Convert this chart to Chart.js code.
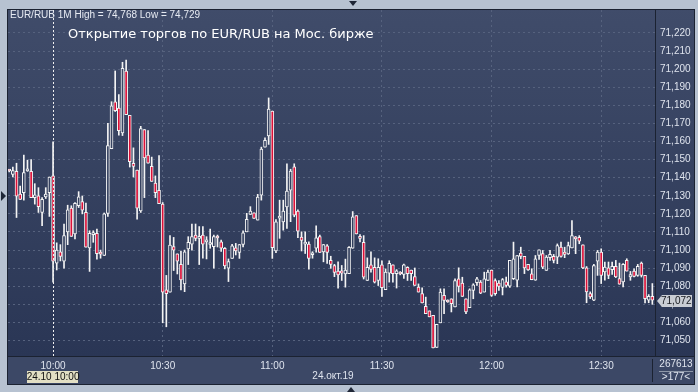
<!DOCTYPE html>
<html>
<head>
<meta charset="utf-8">
<script src="https://cdn.jsdelivr.net/npm/chart.js@4.4.1/dist/chart.umd.min.js"></script>
<style>
  html, body { margin: 0; padding: 0; background: #b7c2d1; }
  canvas { display: block; }
</style>
</head>
<body>
<canvas id="candles" width="698" height="392"></canvas>
<script>
// EUR/RUB 1M, 24.10.2019, one candle per minute starting 9:48
const firstMinute = -12; // minutes relative to 10:00

const opens = [
  71.1440, 71.1418, 71.1435, 71.1309, 71.1318, 71.1438, 71.1435, 71.1290, 71.1300, 71.1208,
  71.1294, 71.1318, 71.1410, 71.0928, 71.0990, 71.0939, 71.1100, 71.1232, 71.1089, 71.1246,
  71.1268, 71.1208, 71.1012, 71.1085, 71.1092, 71.0985, 71.0970, 71.1202, 71.1560, 71.1820,
  71.1785, 71.1648, 71.1990, 71.1745, 71.1480, 71.1442, 71.1217, 71.1666, 71.1525, 71.1463,
  71.1370, 71.1330, 71.1254, 71.0780, 71.0768, 71.1020, 71.0979, 71.0921, 71.0813, 71.1006,
  71.1033, 71.1083, 71.1065, 71.1083, 71.1045, 71.1031, 71.1019, 71.1071, 71.1046, 71.1010,
  71.0900, 71.0954, 71.1013, 71.0987, 71.1031, 71.1101, 71.1197, 71.1206, 71.1166, 71.1304,
  71.1569, 71.1631, 71.1768, 71.0995, 71.1177, 71.1156, 71.1238, 71.1331, 71.1460, 71.1216,
  71.1072, 71.1033, 71.1033, 71.0974, 71.1010, 71.1074, 71.0990, 71.1024, 71.0943, 71.0914,
  71.0884, 71.0885, 71.0868, 71.0869, 71.1010, 71.1190, 71.1076, 71.1043, 71.0832, 71.0918,
  71.0905, 71.0832, 71.0918, 71.0781, 71.0872, 71.0918, 71.0869, 71.0874, 71.0865, 71.0905,
  71.0890, 71.0854, 71.0795, 71.0759, 71.0689, 71.0664, 71.0640, 71.0462, 71.0598, 71.0750,
  71.0722, 71.0731, 71.0686, 71.0841, 71.0817, 71.0731, 71.0682, 71.0777, 71.0820, 71.0823,
  71.0768, 71.0832, 71.0890, 71.0832, 71.0817, 71.0793, 71.0824, 71.0800, 71.0842, 71.0833,
  71.0983, 71.0965, 71.0921, 71.0869, 71.0833, 71.0970, 71.0980, 71.0888, 71.0958, 71.0965,
  71.0961, 71.1016, 71.0989, 71.0979, 71.1012, 71.1071, 71.1071, 71.1029, 71.0902, 71.0760,
  71.0723, 71.0939, 71.0989, 71.0879, 71.0902, 71.0892, 71.0910, 71.0842, 71.0824, 71.0943,
  71.0851, 71.0884, 71.0860, 71.0928, 71.0860, 71.0723, 71.0745
];
const highs = [
  71.1445, 71.1459, 71.1480, 71.1354, 71.1525, 71.1497, 71.1500, 71.1367, 71.1345, 71.1290,
  71.1345, 71.1404, 71.1598, 71.1040, 71.1030, 71.1144, 71.1248, 71.1245, 71.1262, 71.1323,
  71.1299, 71.1260, 71.1107, 71.1107, 71.1116, 71.1000, 71.1205, 71.1700, 71.1820, 71.1990,
  71.1860, 71.2038, 71.2050, 71.1745, 71.1565, 71.1442, 71.1684, 71.1666, 71.1660, 71.1514,
  71.1410, 71.1523, 71.1263, 71.0860, 71.1080, 71.1070, 71.0979, 71.0995, 71.1000, 71.1074,
  71.1144, 71.1144, 71.1130, 71.1130, 71.1074, 71.1116, 71.1083, 71.1083, 71.1055, 71.1014,
  71.0951, 71.1032, 71.1037, 71.1031, 71.1106, 71.1203, 71.1240, 71.1206, 71.1308, 71.1569,
  71.1620, 71.1841, 71.1768, 71.1169, 71.1276, 71.1276, 71.1477, 71.1447, 71.1477, 71.1222,
  71.1101, 71.1101, 71.1046, 71.0991, 71.1134, 71.1083, 71.1031, 71.1031, 71.0966, 71.0921,
  71.0935, 71.0915, 71.0950, 71.1019, 71.1213, 71.1190, 71.1085, 71.1080, 71.0957, 71.0990,
  71.0957, 71.0952, 71.0941, 71.0896, 71.0941, 71.0918, 71.0892, 71.0881, 71.0923, 71.0908,
  71.0890, 71.0901, 71.0813, 71.0791, 71.0740, 71.0664, 71.0640, 71.0590, 71.0786, 71.0786,
  71.0725, 71.0731, 71.0841, 71.0902, 71.0850, 71.0731, 71.0786, 71.0814, 71.0850, 71.0832,
  71.0878, 71.0890, 71.0890, 71.0841, 71.0832, 71.0843, 71.0851, 71.0943, 71.1044, 71.0970,
  71.1016, 71.0965, 71.0921, 71.0897, 71.0970, 71.1001, 71.0998, 71.0970, 71.0998, 71.0976,
  71.1034, 71.1044, 71.1016, 71.1044, 71.1163, 71.1075, 71.1080, 71.1029, 71.0909, 71.0769,
  71.0921, 71.0998, 71.1007, 71.0934, 71.0934, 71.0934, 71.0943, 71.0928, 71.0925, 71.0952,
  71.0882, 71.0897, 71.0921, 71.0934, 71.0860, 71.0754, 71.0815
];
const lows = [
  71.1432, 71.1404, 71.1180, 71.1280, 71.1276, 71.1435, 71.1290, 71.1254, 71.1208, 71.1135,
  71.1285, 71.1186, 71.0823, 71.0890, 71.0940, 71.0900, 71.1030, 71.1076, 71.1061, 71.1235,
  71.1200, 71.1016, 71.0882, 71.1043, 71.0950, 71.0955, 71.0970, 71.1186, 71.1560, 71.1766,
  71.1635, 71.1633, 71.1748, 71.1459, 71.1404, 71.1171, 71.1208, 71.1290, 71.1480, 71.1380,
  71.1290, 71.1257, 71.0598, 71.0576, 71.0768, 71.0887, 71.0868, 71.0780, 71.0770, 71.0920,
  71.1000, 71.1051, 71.0920, 71.0955, 71.0951, 71.1010, 71.0900, 71.1017, 71.0992, 71.0896,
  71.0826, 71.0954, 71.0973, 71.0954, 71.1018, 71.1101, 71.1197, 71.1175, 71.1166, 71.1276,
  71.1569, 71.1584, 71.0954, 71.0985, 71.1065, 71.1110, 71.1120, 71.1157, 71.1184, 71.1068,
  71.0995, 71.0981, 71.0895, 71.0955, 71.0988, 71.0987, 71.0935, 71.0926, 71.0899, 71.0853,
  71.0789, 71.0832, 71.0795, 71.0869, 71.1010, 71.1089, 71.1045, 71.0840, 71.0832, 71.0878,
  71.0818, 71.0804, 71.0744, 71.0781, 71.0823, 71.0823, 71.0790, 71.0863, 71.0844, 71.0832,
  71.0832, 71.0805, 71.0768, 71.0708, 71.0649, 71.0631, 71.0459, 71.0462, 71.0598, 71.0649,
  71.0711, 71.0658, 71.0686, 71.0768, 71.0744, 71.0649, 71.0682, 71.0731, 71.0805, 71.0759,
  71.0768, 71.0832, 71.0744, 71.0750, 71.0777, 71.0752, 71.0795, 71.0793, 71.0837, 71.0796,
  71.0952, 71.0870, 71.0888, 71.0836, 71.0833, 71.0948, 71.0897, 71.0888, 71.0943, 71.0929,
  71.0925, 71.0961, 71.0958, 71.0976, 71.1012, 71.0980, 71.1035, 71.0897, 71.0709, 71.0732,
  71.0720, 71.0860, 71.0815, 71.0834, 71.0842, 71.0866, 71.0848, 71.0811, 71.0797, 71.0884,
  71.0833, 71.0851, 71.0855, 71.0851, 71.0708, 71.0709, 71.0700
];
const closes = [
  71.1437, 71.1440, 71.1298, 71.1280, 71.1428, 71.1442, 71.1290, 71.1305, 71.1240, 71.1281,
  71.1310, 71.1404, 71.0939, 71.1000, 71.0965, 71.1080, 71.1223, 71.1076, 71.1259, 71.1294,
  71.1221, 71.1016, 71.1092, 71.1095, 71.0980, 71.0978, 71.1200, 71.1578, 71.1798, 71.1770,
  71.1660, 71.2005, 71.1748, 71.1488, 71.1462, 71.1232, 71.1672, 71.1510, 71.1480, 71.1380,
  71.1318, 71.1257, 71.0768, 71.0759, 71.1028, 71.1000, 71.0939, 71.0835, 71.0991, 71.1043,
  71.1074, 71.1065, 71.1075, 71.1033, 71.1052, 71.1036, 71.1074, 71.1067, 71.1010, 71.0912,
  71.0936, 71.1024, 71.0995, 71.1031, 71.1096, 71.1170, 71.1216, 71.1175, 71.1293, 71.1558,
  71.1607, 71.1779, 71.1013, 71.1156, 71.1186, 71.1215, 71.1326, 71.1436, 71.1193, 71.1105,
  71.1054, 71.1042, 71.0954, 71.0985, 71.1068, 71.0987, 71.1031, 71.0987, 71.0921, 71.0877,
  71.0862, 71.0872, 71.0890, 71.1015, 71.1184, 71.1089, 71.1065, 71.0850, 71.0905, 71.0893,
  71.0823, 71.0905, 71.0792, 71.0878, 71.0927, 71.0869, 71.0885, 71.0868, 71.0918, 71.0869,
  71.0869, 71.0805, 71.0768, 71.0708, 71.0649, 71.0631, 71.0459, 71.0590, 71.0768, 71.0722,
  71.0713, 71.0704, 71.0832, 71.0799, 71.0744, 71.0658, 71.0780, 71.0808, 71.0841, 71.0762,
  71.0841, 71.0878, 71.0749, 71.0759, 71.0799, 71.0837, 71.0805, 71.0943, 71.0952, 71.0970,
  71.0965, 71.0902, 71.0891, 71.0836, 71.0952, 71.1001, 71.0906, 71.0961, 71.0976, 71.0943,
  71.1025, 71.0965, 71.0976, 71.1025, 71.1080, 71.1062, 71.1049, 71.0902, 71.0769, 71.0741,
  71.0915, 71.0989, 71.0860, 71.0906, 71.0860, 71.0910, 71.0851, 71.0811, 71.0921, 71.0884,
  71.0864, 71.0855, 71.0910, 71.0860, 71.0732, 71.0745, 71.0723
];

const timeTicks = [0, 30, 60, 90, 120, 150];
const timeLabels = ['10:00', '10:30', '11:00', '11:30', '12:00', '12:30'];
const priceTicks = [71.050, 71.060, 71.070, 71.080, 71.090, 71.100, 71.110, 71.120, 71.130,
  71.140, 71.150, 71.160, 71.170, 71.180, 71.190, 71.200, 71.210, 71.220];
const lastPrice = 71.072;

const fontFamily = '"Liberation Sans", Arial, sans-serif';
const textColor = '#dfe4ee';
const downColor = '#dc1038';
const lineColor = '#f4f4f4';

// same gradient for panel and hollow candle bodies
let panelFill = null;
function panelGradient(chart) {
  if (!panelFill) {
    const g = chart.ctx.createLinearGradient(0, 8, 0, 357);
    g.addColorStop(0, '#404c6a');
    g.addColorStop(1, '#2a3655');
    panelFill = g;
  }
  return panelFill;
}

const minutes = opens.map((_, i) => firstMinute + i);
const bodyData = minutes.map((m, i) => ({ x: m, y: [opens[i], closes[i]] }));
const wickData = minutes.map((m, i) => ({ x: m, y: [lows[i], highs[i]] }));

const priceText = v => v.toFixed(3).replace('.', ',');

function triangle(ctx, pts) {
  ctx.beginPath();
  ctx.moveTo(pts[0], pts[1]);
  ctx.lineTo(pts[2], pts[3]);
  ctx.lineTo(pts[4], pts[5]);
  ctx.closePath();
  ctx.fill();
}

const frame = {
  id: 'frame',
  beforeDraw(chart) {
    const { ctx, chartArea: a } = chart;
    const right = chart.width - 4, bottom = chart.height - 8;
    ctx.save();
    ctx.fillStyle = '#b7c2d1';
    ctx.fillRect(0, 0, chart.width, chart.height);
    ctx.fillStyle = panelGradient(chart);
    ctx.fillRect(a.left, a.top, right - a.left, a.bottom - a.top);
    ctx.fillStyle = '#3c4866';
    ctx.fillRect(a.left, a.bottom, right - a.left, bottom - a.bottom);
    ctx.restore();
  },
  afterDatasetsDraw(chart) {
    // session start line at 10:00
    const { ctx, chartArea: a } = chart;
    const x = Math.round(chart.scales.x.getPixelForValue(0)) + 0.5;
    ctx.save();
    ctx.strokeStyle = '#f0f0f0';
    ctx.lineWidth = 1;
    ctx.setLineDash([2, 2]);
    ctx.beginPath();
    ctx.moveTo(x, a.top);
    ctx.lineTo(x, a.bottom);
    ctx.stroke();
    ctx.restore();
  },
  afterDraw(chart) {
    const { ctx, chartArea: a } = chart;
    const right = chart.width - 4, bottom = chart.height - 8;
    ctx.save();

    // borders
    ctx.strokeStyle = '#1b2231';
    ctx.lineWidth = 1;
    ctx.strokeRect(a.left - 0.5, a.top - 0.5, right - a.left + 1, bottom - a.top + 1);
    ctx.beginPath();
    ctx.moveTo(a.right - 0.5, a.top);
    ctx.lineTo(a.right - 0.5, a.bottom);
    ctx.moveTo(a.left, a.bottom - 0.5);
    ctx.lineTo(right, a.bottom - 0.5);
    ctx.moveTo(a.right - 3.5, a.bottom + 2);
    ctx.lineTo(a.right - 3.5, bottom - 2);
    ctx.stroke();

    // header and title
    ctx.textBaseline = 'middle';
    ctx.textAlign = 'left';
    ctx.fillStyle = '#e6eaf2';
    ctx.font = '10px ' + fontFamily;
    ctx.fillText('EUR/RUB 1M High = 74,768 Low = 74,729', 10, 15);
    ctx.fillStyle = '#ffffff';
    ctx.font = '13px "DejaVu Sans", sans-serif';
    ctx.fillText('Открытие торгов по EUR/RUB на Мос. бирже', 68, 35);

    // last price marker
    const py = Math.round(chart.scales.y.getPixelForValue(lastPrice));
    ctx.fillStyle = '#c9cdd4';
    ctx.beginPath();
    ctx.moveTo(a.right + 1, py);
    ctx.lineTo(a.right + 6, py - 6);
    ctx.lineTo(right - 2, py - 6);
    ctx.lineTo(right - 2, py + 6);
    ctx.lineTo(a.right + 6, py + 6);
    ctx.closePath();
    ctx.fill();
    ctx.fillStyle = '#15181e';
    ctx.font = '10px ' + fontFamily;
    ctx.fillText(priceText(lastPrice), a.right + 5, py + 0.5);

    // date under time axis
    const x0 = chart.scales.x.getPixelForValue(0);
    ctx.fillStyle = '#e2dfc4';
    ctx.fillRect(Math.round(x0) - 26, 371, 51, 12);
    ctx.fillStyle = '#111111';
    ctx.textAlign = 'center';
    ctx.fillText('24.10 10:00', x0, 377.5);
    ctx.fillStyle = textColor;
    ctx.fillText('24.окт.19', 333, 376.5);

    // counters in the corner
    ctx.fillText('267613', 676, 364.5);
    ctx.fillText('>177<', 676, 377.5);
    ctx.strokeStyle = '#8d97a8';
    ctx.beginPath();
    ctx.moveTo(659, 371.5);
    ctx.lineTo(right - 1, 371.5);
    ctx.stroke();

    // small window arrows
    ctx.fillStyle = '#1e2636';
    triangle(ctx, [349, 1, 357, 1, 353, 6]);
    triangle(ctx, [347, 392, 355, 392, 351, 387]);
    triangle(ctx, [1, 191, 1, 201, 6, 196]);
    ctx.restore();
  }
};

new Chart(document.getElementById('candles'), {
  type: 'bar',
  data: {
    datasets: [
      {
        label: 'body',
        data: bodyData,
        order: 0,
        grouped: false,
        barThickness: 3,
        minBarLength: 2,
        borderWidth: 1,
        borderColor: lineColor,
        borderSkipped: false,
        backgroundColor: ctx => {
          const i = ctx.dataIndex;
          return closes[i] < opens[i] ? downColor : panelGradient(ctx.chart);
        }
      },
      {
        label: 'wick',
        data: wickData,
        order: 1,
        grouped: false,
        barThickness: 1,
        backgroundColor: lineColor
      }
    ]
  },
  options: {
    responsive: false,
    animation: false,
    events: [],
    layout: { padding: { left: 8, top: 8, right: 4, bottom: 8 } },
    plugins: {
      legend: { display: false },
      tooltip: { enabled: false }
    },
    scales: {
      x: {
        type: 'linear',
        min: -12.33,
        max: 165,
        offset: false,
        afterBuildTicks: axis => { axis.ticks = timeTicks.map(v => ({ value: v })); },
        afterFit: axis => { axis.height = 27; },
        grid: {
          offset: false,
          drawTicks: false,
          color: ctx => (ctx.tick && ctx.tick.value === 0 ? 'rgba(0,0,0,0)' : '#56627e')
        },
        border: { display: false, dash: [2, 3] },
        ticks: {
          autoSkip: false,
          maxRotation: 0,
          padding: 3,
          color: textColor,
          font: { family: fontFamily, size: 10 },
          callback: v => timeLabels[timeTicks.indexOf(v)] || ''
        }
      },
      y: {
        position: 'right',
        min: 71.0409,
        max: 71.2327,
        beginAtZero: false,
        afterBuildTicks: axis => { axis.ticks = priceTicks.map(v => ({ value: v })); },
        afterFit: axis => { axis.width = 38; },
        grid: { drawTicks: false, color: '#56627e' },
        border: { display: false, dash: [2, 3] },
        ticks: {
          padding: 4,
          color: textColor,
          font: { family: fontFamily, size: 10 },
          callback: v => priceText(v)
        }
      }
    }
  },
  plugins: [frame]
});
</script>
</body>
</html>
